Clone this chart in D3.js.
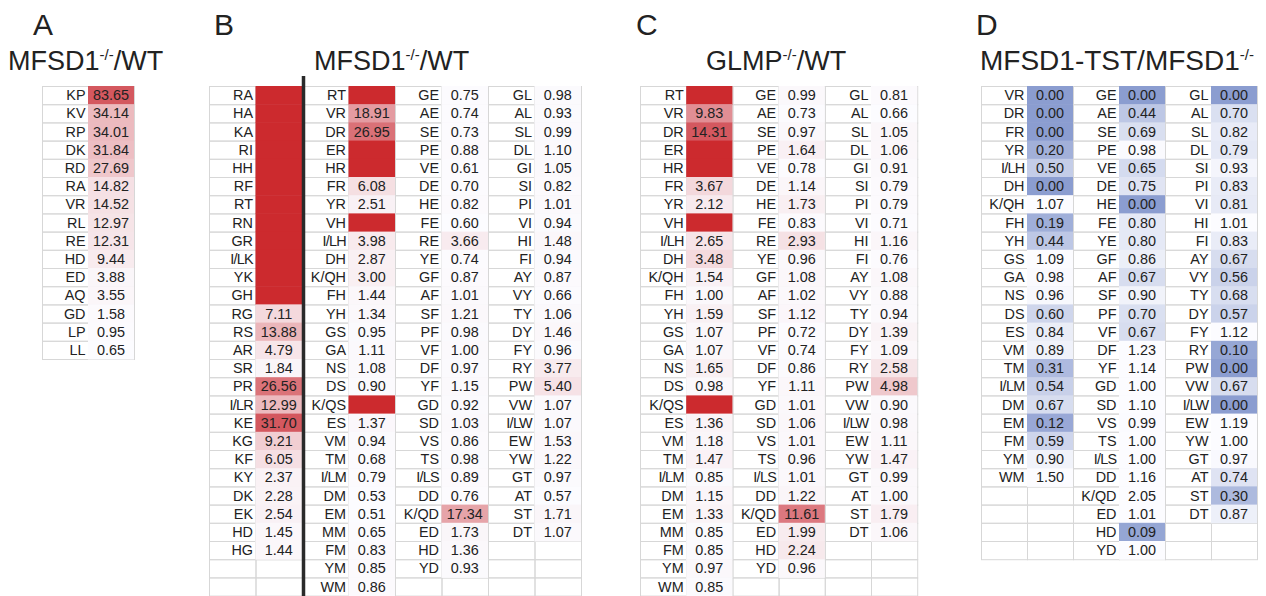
<!DOCTYPE html>
<html>
<head>
<meta charset="utf-8">
<script src="https://cdn.jsdelivr.net/npm/d3@7"></script>
<style>
  body { margin: 0; background: #fff; }
  text { font-family: "Liberation Sans", Arial, sans-serif; fill: #222; }
</style>
</head>
<body>
<svg id="chart" width="1266" height="596"></svg>
<script>
// blank red cell = not detected in the reference (ratio infinite)
const INF = Infinity;

// Panel A
const aLabels = ["KP","KV","RP","DK","RD","RA","VR","RL","RE","HD","ED","AQ","GD","LP","LL"];
const aValues = [83.65,34.14,34.01,31.84,27.69,14.82,14.52,12.97,12.31,9.44,3.88,3.55,1.58,0.95,0.65];

// Panel B / C share the dipeptide lists
const rLabels = ["RA","HA","KA","RI","HH","RF","RT","RN","GR","I/LK","YK","GH","RG","RS","AR","SR","PR","I/LR","KE","KG","KF","KY","DK","EK","HD","HG"];
const hLabels = ["RT","VR","DR","ER","HR","FR","YR","VH","I/LH","DH","K/QH","FH","YH","GS","GA","NS","DS","K/QS","ES","VM","TM","I/LM","DM","EM","MM","FM","YM","WM"];
const eLabels = ["GE","AE","SE","PE","VE","DE","HE","FE","RE","YE","GF","AF","SF","PF","VF","DF","YF","GD","SD","VS","TS","I/LS","DD","K/QD","ED","HD","YD"];
const lLabels = ["GL","AL","SL","DL","GI","SI","PI","VI","HI","FI","AY","VY","TY","DY","FY","RY","PW","VW","I/LW","EW","YW","GT","AT","ST","DT"];

const bValues1 = [INF,INF,INF,INF,INF,INF,INF,INF,INF,INF,INF,INF,7.11,13.88,4.79,1.84,26.56,12.99,31.70,9.21,6.05,2.37,2.28,2.54,1.45,1.44];
const bValues2 = [INF,18.91,26.95,INF,INF,6.08,2.51,INF,3.98,2.87,3.00,1.44,1.34,0.95,1.11,1.08,0.90,INF,1.37,0.94,0.68,0.79,0.53,0.51,0.65,0.83,0.85,0.86];
const bValues3 = [0.75,0.74,0.73,0.88,0.61,0.70,0.82,0.60,3.66,0.74,0.87,1.01,1.21,0.98,1.00,0.97,1.15,0.92,1.03,0.86,0.98,0.89,0.76,17.34,1.73,1.36,0.93];
const bValues4 = [0.98,0.93,0.99,1.10,1.05,0.82,1.01,0.94,1.48,0.94,0.87,0.66,1.06,1.46,0.96,3.77,5.40,1.07,1.07,1.53,1.22,0.97,0.57,1.71,1.07];

const cValues1 = [INF,9.83,14.31,INF,INF,3.67,2.12,INF,2.65,3.48,1.54,1.00,1.59,1.07,1.07,1.65,0.98,INF,1.36,1.18,1.47,0.85,1.15,1.33,0.85,0.85,0.97,0.85];
const cValues2 = [0.99,0.73,0.97,1.64,0.78,1.14,1.73,0.83,2.93,0.96,1.08,1.02,1.12,0.72,0.74,0.86,1.11,1.01,1.06,1.01,0.96,1.01,1.22,11.61,1.99,2.24,0.96];
const cValues3 = [0.81,0.66,1.05,1.06,0.91,0.79,0.79,0.71,1.16,0.76,1.08,0.88,0.94,1.39,1.09,2.58,4.98,0.90,0.98,1.11,1.47,0.99,1.00,1.79,1.06];

// Panel D
const dLabels1 = ["VR","DR","FR","YR","I/LH","DH","K/QH","FH","YH","GS","GA","NS","DS","ES","VM","TM","I/LM","DM","EM","FM","YM","WM"];
const dValues1 = [0.00,0.00,0.00,0.20,0.50,0.00,1.07,0.19,0.44,1.09,0.98,0.96,0.60,0.84,0.89,0.31,0.54,0.67,0.12,0.59,0.90,1.50];
const dLabels2 = ["GE","AE","SE","PE","VE","DE","HE","FE","YE","GF","AF","SF","PF","VF","DF","YF","GD","SD","VS","TS","I/LS","DD","K/QD","ED","HD","YD"];
const dValues2 = [0.00,0.44,0.69,0.98,0.65,0.75,0.00,0.80,0.80,0.86,0.67,0.90,0.70,0.67,1.23,1.14,1.00,1.10,0.99,1.00,1.00,1.16,2.05,1.01,0.09,1.00];
const dLabels3 = ["GL","AL","SL","DL","SI","PI","VI","HI","FI","AY","VY","TY","DY","FY","RY","PW","VW","I/LW","EW","YW","GT","AT","ST","DT"];
const dValues3 = [0.00,0.70,0.82,0.79,0.93,0.83,0.81,1.01,0.83,0.67,0.56,0.68,0.57,1.12,0.10,0.00,0.67,0.00,1.19,1.00,0.97,0.74,0.30,0.87];

const svg = d3.select('#chart');
svg.append('rect').attr('width', 1266).attr('height', 596).attr('fill', '#fff');

const rowH = 18.2;
const tableTop = 86;
const cellFont = 14.4;
const white = '#fcfcff';
const fullRed = '#cc2a2e';
const fmt = d3.format('.2f');

function redScale(cols) {
  const finite = cols.flat().filter(v => isFinite(v));
  return d3.scaleLinear()
    .domain(d3.extent(finite))
    .range([white, '#d4585f'])
    .interpolate(d3.interpolateRgb);
}

const blueScale = d3.scaleLinear()
  .domain([0, 1])
  .range(['#8b9dd0', white])
  .interpolate(d3.interpolateRgb)
  .clamp(true);

function drawTable(x0, colW, nRows, columns, color) {
  const g = svg.append('g');
  const y = d3.scaleBand()
    .domain(d3.range(nRows))
    .range([tableTop, tableTop + nRows * rowH]);
  const x = d3.scaleBand()
    .domain(d3.range(columns.length * 2))
    .range([x0, x0 + columns.length * 2 * colW]);

  // grid for all cells (fills below cover it like in a spreadsheet)
  columns.forEach((col, ci) => {
    d3.range(nRows).forEach(r => {
      [0, 1].forEach(k => {
        g.append('rect')
          .attr('x', x(ci * 2 + k) + 0.5)
          .attr('y', y(r) + 0.5)
          .attr('width', x.bandwidth())
          .attr('height', y.bandwidth())
          .attr('fill', 'none')
          .attr('stroke', '#d7d7d7')
          .attr('stroke-width', 1);
      });
    });
  });

  columns.forEach((col, ci) => {
    const cells = g.selectAll(null)
      .data(col.labels.map((l, i) => ({ label: l, value: col.values[i], row: i })))
      .enter();

    cells.append('rect')
      .attr('x', x(ci * 2 + 1))
      .attr('y', d => y(d.row))
      .attr('width', x.bandwidth())
      .attr('height', y.bandwidth() + 0.5)
      .attr('fill', d => isFinite(d.value) ? color(d.value) : fullRed);

    cells.append('text')
      .attr('x', x(ci * 2) + x.bandwidth() - 2.5)
      .attr('y', d => y(d.row) + rowH / 2 + 5)
      .attr('text-anchor', 'end')
      .attr('font-size', cellFont)
      .attr('letter-spacing', d => d.label.includes('I/') ? -0.7 : 0)
      .text(d => d.label);

    cells.filter(d => isFinite(d.value)).append('text')
      .attr('x', x(ci * 2 + 1) + x.bandwidth() / 2)
      .attr('y', d => y(d.row) + rowH / 2 + 5)
      .attr('text-anchor', 'middle')
      .attr('font-size', cellFont)
      .text(d => fmt(d.value));
  });
}

function header(letter, lx, title, sup, tail, tx, size) {
  svg.append('text').attr('x', lx).attr('y', 35).attr('font-size', 30).text(letter);
  const t = svg.append('text').attr('x', tx).attr('y', 70).attr('font-size', size);
  t.append('tspan').text(title);
  t.append('tspan').attr('font-size', 15).attr('dy', -10).text(sup);
  t.append('tspan').attr('dy', 10).text(tail);
}

header('A', 33, 'MFSD1', '-/-', '/WT', 8, 27);
drawTable(42, 46, 15, [{ labels: aLabels, values: aValues }], redScale([aValues]));

header('B', 214, 'MFSD1', '-/-', '/WT', 314, 27);
drawTable(209, 46.5, 28, [
  { labels: rLabels, values: bValues1 },
  { labels: hLabels, values: bValues2 },
  { labels: eLabels, values: bValues3 },
  { labels: lLabels, values: bValues4 }
], redScale([bValues1, bValues2, bValues3, bValues4]));
svg.append('line')
  .attr('x1', 303.5).attr('x2', 303.5)
  .attr('y1', 76).attr('y2', 596)
  .attr('stroke', '#2a2a2a').attr('stroke-width', 3.5);

header('C', 636, 'GLMP', '-/-', '/WT', 706, 27);
drawTable(640, 46.2, 28, [
  { labels: hLabels, values: cValues1 },
  { labels: eLabels, values: cValues2 },
  { labels: lLabels, values: cValues3 }
], redScale([cValues1, cValues2, cValues3]));

header('D', 976, 'MFSD1-TST/MFSD1', '-/-', '', 980, 28);
drawTable(981, 46, 26, [
  { labels: dLabels1, values: dValues1 },
  { labels: dLabels2, values: dValues2 },
  { labels: dLabels3, values: dValues3 }
], blueScale);
</script>
</body>
</html>
